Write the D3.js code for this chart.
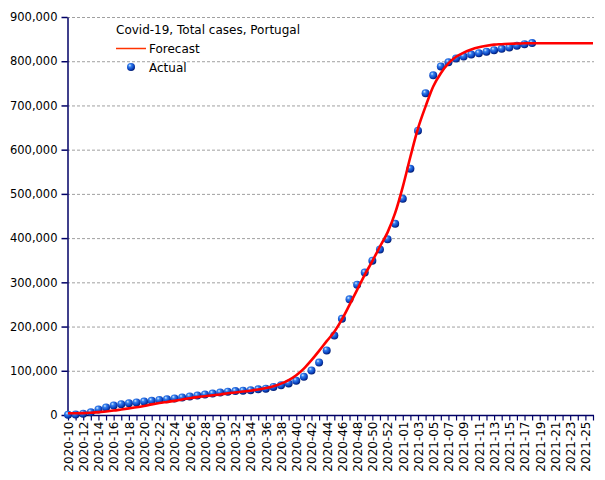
<!DOCTYPE html>
<html>
<head>
<meta charset="utf-8">
<script src="https://cdn.jsdelivr.net/npm/d3@7"></script>
<style>
  html, body { margin: 0; padding: 0; background: #fff; }
  svg { display: block; }
</style>
</head>
<body>
<svg id="chart" width="605" height="480"></svg>
<script>
// ---- Data ----
const weeks = [];
for (let w = 10; w <= 53; w++) weeks.push("2020-" + String(w).padStart(2, "0"));
for (let w = 1; w <= 26; w++) weeks.push("2021-" + String(w).padStart(2, "0"));

const yTicks = [0, 100000, 200000, 300000, 400000, 500000, 600000, 700000, 800000, 900000];

const actual = [
  500, 1000, 3000, 6000, 12500, 17000, 21500, 24500, 26500, 28500,
  30500, 32000, 34000, 35500, 37500, 39500, 41800, 44000, 46300, 48500,
  50800, 52800, 54000, 55000, 56000, 58000, 59500, 63500, 67000, 71500,
  77500, 86500, 100500, 118500, 146000, 179500, 217500, 261500, 294500, 322000,
  349000, 374000, 397500, 432500, 489000, 557000, 643000, 727500, 768000, 788000,
  797500, 806000, 810500, 815000, 818000, 821500, 825000, 828000, 831000, 835000,
  838500, 841000
];

const forecast = [
  4000, 4000, 4200, 5000, 6500, 8000, 10000, 12500, 15000, 17500,
  20500, 24000, 27000, 29500, 32000, 35000, 38000, 40500, 42500, 44500,
  46500, 49000, 51000, 53000, 55000, 57500, 61000, 65000, 71000, 79000,
  90000, 105000, 124000, 145000, 167000, 188000, 216000, 249000, 283000, 317000,
  348000, 381000, 413000, 457000, 516000, 584000, 648000, 698000, 743000, 773000,
  795000, 810000, 819500, 826500, 831500, 835000, 837500, 838500, 839500, 840000,
  840500, 840500, 840500, 840500, 840500, 840500, 840500, 840500, 840500, 840500
];

const legendTitle = "Covid-19, Total cases, Portugal";
const seriesNames = ["Forecast", "Actual"];

// ---- Layout ----
const svg = d3.select("#chart");
const x = d3.scalePoint().domain(weeks).range([68, 593]);
const y = d3.scaleLinear().domain([0, 900000]).range([415, 17]);
const axisColor = "#000066";
const font = "DejaVu Sans, Verdana, sans-serif";

const defs = svg.append("defs");
const grad = defs.append("radialGradient").attr("id", "ball")
  .attr("cx", "40%").attr("cy", "35%").attr("r", "65%").attr("fx", "35%").attr("fy", "30%");
grad.append("stop").attr("offset", "0%").attr("stop-color", "#d8ecff");
grad.append("stop").attr("offset", "30%").attr("stop-color", "#3580ee");
grad.append("stop").attr("offset", "75%").attr("stop-color", "#0a40bc");
grad.append("stop").attr("offset", "100%").attr("stop-color", "#021c70");

// gridlines
svg.append("g").selectAll("line").data(yTicks.filter(d => d > 0)).join("line")
  .attr("x1", 67).attr("x2", 594)
  .attr("y1", d => y(d) + 0.5).attr("y2", d => y(d) + 0.5)
  .attr("stroke", "#a0a0a0").attr("stroke-width", 1)
  .attr("stroke-dasharray", "3,2");

// y axis
const yAxis = svg.append("g").attr("transform", "translate(67.5,0)")
  .call(d3.axisLeft(y).tickValues(yTicks).tickFormat(d3.format(",")).tickSize(6).tickSizeOuter(0).tickPadding(4));
yAxis.select(".domain").attr("stroke", axisColor).attr("stroke-width", 1.5);
yAxis.selectAll(".tick line").attr("stroke", axisColor).attr("stroke-width", 1.5);
yAxis.selectAll(".tick text").attr("fill", "#000").style("font-family", font).style("font-size", "11.5px");

// x axis
const xAxis = svg.append("g").attr("transform", "translate(0,415.5)")
  .call(d3.axisBottom(x).tickSize(5).tickSizeOuter(0)
    .tickFormat((d, i) => i % 2 === 0 ? d : ""));
xAxis.select(".domain").attr("stroke", axisColor).attr("stroke-width", 1.5)
  .attr("d", "M67,0H594");
xAxis.selectAll(".tick line").attr("stroke", axisColor).attr("stroke-width", 1.2);
xAxis.selectAll(".tick text")
  .attr("transform", "rotate(-90)")
  .attr("x", -6).attr("y", 0).attr("dy", "0.36em")
  .style("text-anchor", "end")
  .attr("fill", "#000").style("font-family", font).style("font-size", "12px");

// actual dots
svg.append("g").selectAll("circle").data(actual).join("circle")
  .attr("cx", (d, i) => x(weeks[i]))
  .attr("cy", d => y(d))
  .attr("r", 4)
  .attr("fill", "url(#ball)");

// forecast line
const line = d3.line()
  .x((d, i) => x(weeks[i]))
  .y(d => y(d))
  .curve(d3.curveMonotoneX);
svg.append("path").datum(forecast)
  .attr("d", line)
  .attr("fill", "none").attr("stroke", "#ff0000").attr("stroke-width", 2.6);

// legend
const lg = svg.append("g").style("font-family", font).style("font-size", "12px");
lg.append("text").attr("x", 116).attr("y", 34).text(legendTitle);
lg.append("line").attr("x1", 116).attr("x2", 146).attr("y1", 48.5).attr("y2", 48.5)
  .attr("stroke", "#ff3300").attr("stroke-width", 1.5);
lg.append("text").attr("x", 149).attr("y", 53).text(seriesNames[0]);
lg.append("circle").attr("cx", 131).attr("cy", 67).attr("r", 4).attr("fill", "url(#ball)");
lg.append("text").attr("x", 149).attr("y", 71.5).text(seriesNames[1]);
</script>
</body>
</html>
